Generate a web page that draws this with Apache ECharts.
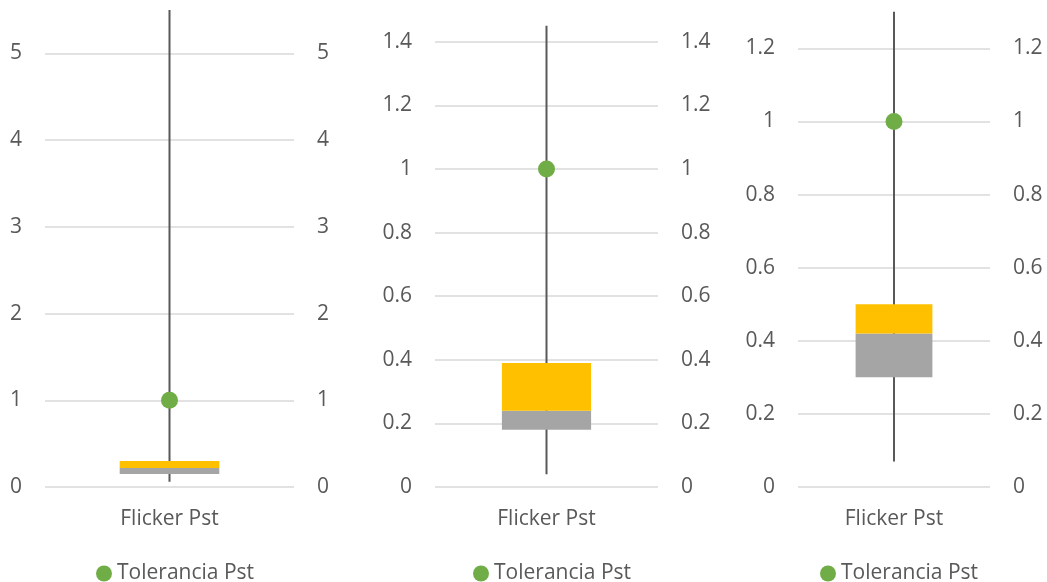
<!DOCTYPE html>
<html>
<head>
<meta charset="utf-8">
<title>Flicker Pst</title>
<script src="https://cdn.jsdelivr.net/npm/echarts@6/dist/echarts.min.js"></script>
<style>
  html, body { margin: 0; padding: 0; background: #ffffff; }
  #chart { width: 1047px; height: 582px; }
</style>
</head>
<body>
<div id="chart"></div>
<script>
// Box-and-whisker summary of Pst flicker for three measurement points
const categories = ['Flicker Pst'];
const legendName = 'Tolerancia Pst';

// y-axis scale of each panel (ticks from 0 to max every step)
const axisMax = [5, 1.4, 1.2];
const axisStep = [1, 0.2, 0.2];

// five-number summaries per panel
const whiskerLow = [0.06, 0.04, 0.07];
const q1 = [0.15, 0.18, 0.30];
const median = [0.22, 0.24, 0.42];
const q3 = [0.30, 0.39, 0.50];
const whiskerHigh = [5.5, 1.45, 1.3];

// tolerance limit for Pst
const tolerance = [1, 1, 1];

// panel placement in pixels
const panels = [
  { left: 45, width: 249, top: 53.3, height: 433.7, legendLeft: 96 },
  { left: 435, width: 223, top: 41.7, height: 445.3, legendLeft: 473 },
  { left: 798, width: 192, top: 48.3, height: 438.7, legendLeft: 820 }
];

const TEXT = '#595959';
const GRID_LINE = '#d9d9d9';
const FONT = '"Open Sans", "Liberation Sans", sans-serif';
const FONT_SIZE = 21;

const grid = [], xAxis = [], yAxis = [], series = [], legend = [];

panels.forEach((p, i) => {
  grid.push({ left: p.left, width: p.width, top: p.top, height: p.height });

  xAxis.push({
    type: 'category',
    gridIndex: i,
    data: categories,
    axisLine: { show: false },
    axisTick: { show: false },
    axisLabel: { color: TEXT, fontSize: FONT_SIZE, fontFamily: FONT, margin: 22 }
  });

  const yBase = {
    type: 'value',
    gridIndex: i,
    min: 0,
    max: axisMax[i],
    interval: axisStep[i],
    axisLine: { show: false },
    axisTick: { show: false },
    axisLabel: { color: TEXT, fontSize: FONT_SIZE, fontFamily: FONT, margin: 23 }
  };
  yAxis.push(Object.assign({}, yBase, {
    position: 'left',
    splitLine: { show: true, lineStyle: { color: GRID_LINE, width: 1.5 } }
  }));
  yAxis.push(Object.assign({}, yBase, {
    position: 'right',
    splitLine: { show: false }
  }));

  const yIdx = i * 2;

  // whisker from minimum to maximum
  series.push({
    type: 'custom',
    xAxisIndex: i,
    yAxisIndex: yIdx,
    z: 1,
    silent: true,
    clip: false,
    data: [[0, whiskerLow[i], whiskerHigh[i]]],
    encode: { x: 0, y: [1, 2] },
    renderItem: (params, api) => {
      const lo = api.coord([api.value(0), api.value(1)]);
      const hi = api.coord([api.value(0), api.value(2)]);
      return {
        type: 'line',
        shape: { x1: lo[0], y1: lo[1], x2: hi[0], y2: hi[1] },
        style: { stroke: '#595959', lineWidth: 2 }
      };
    }
  });

  // box: invisible offset up to Q1, then Q1..median and median..Q3
  const stack = 'box' + i;
  series.push({
    type: 'bar', name: 'base', xAxisIndex: i, yAxisIndex: yIdx, stack,
    barWidth: '40%', z: 2, silent: true,
    itemStyle: { color: 'transparent' },
    data: [q1[i]]
  });
  series.push({
    type: 'bar', name: 'Q1-Mediana', xAxisIndex: i, yAxisIndex: yIdx, stack,
    barWidth: '40%', z: 2,
    itemStyle: { color: '#A5A5A5' },
    data: [median[i] - q1[i]]
  });
  series.push({
    type: 'bar', name: 'Mediana-Q3', xAxisIndex: i, yAxisIndex: yIdx, stack,
    barWidth: '40%', z: 2,
    itemStyle: { color: '#FFC000' },
    data: [q3[i] - median[i]]
  });

  // tolerance marker
  series.push({
    type: 'scatter', name: legendName, xAxisIndex: i, yAxisIndex: yIdx,
    z: 3, symbol: 'circle', symbolSize: 17,
    itemStyle: { color: '#70AD47', opacity: 1 },
    data: [[0, tolerance[i]]]
  });

  legend.push({
    data: [legendName],
    left: p.legendLeft,
    top: 563,
    padding: 0,
    icon: 'circle',
    itemWidth: 16,
    itemHeight: 16,
    itemGap: 5,
    selectedMode: false,
    itemStyle: { opacity: 1 },
    textStyle: { color: TEXT, fontSize: FONT_SIZE, fontFamily: FONT }
  });
});

const chart = echarts.init(document.getElementById('chart'), null, { renderer: 'canvas' });
chart.setOption({
  animation: false,
  backgroundColor: '#ffffff',
  grid, xAxis, yAxis, series, legend
});
</script>
</body>
</html>
